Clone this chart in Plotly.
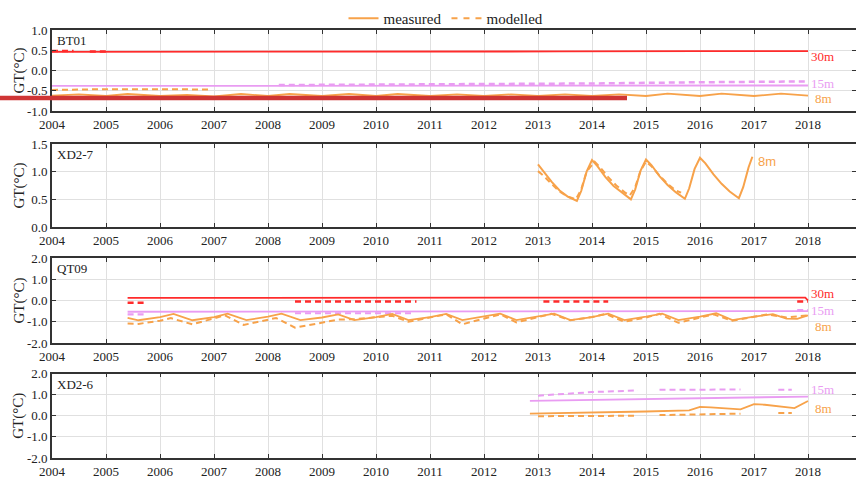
import plotly.graph_objects as go

# ---------------- DATA ----------------
years = list(range(2004, 2019))
year_labels = [str(y) for y in years]

# BT01
bt_30_meas_x = [2004.0, 2008.0, 2013.4, 2016.0, 2018.0]
bt_30_meas_y = [0.46, 0.46, 0.47, 0.48, 0.48]
bt_30_mod_x = [2004.0, 2004.4, None, 2004.7, 2005.0]
bt_30_mod_y = [0.48, 0.48, None, 0.47, 0.47]
bt_15_meas_x = [2004.0, 2018.0]
bt_15_meas_y = [-0.38, -0.37]
bt_15_mod_x = [2008.2, 2010.0, 2012.0, 2014.0, 2016.0, 2018.0]
bt_15_mod_y = [-0.36, -0.35, -0.34, -0.32, -0.29, -0.27]
bt_8_meas_x = [2004.0, 2004.5, 2005.0, 2005.4, 2006.0, 2006.5, 2007.0, 2007.5, 2008.0, 2008.4,
               2009.0, 2009.5, 2010.0, 2010.4, 2011.0, 2011.5, 2012.0, 2012.5, 2013.0, 2013.5,
               2014.0, 2014.5, 2015.0, 2015.4, 2016.0, 2016.4, 2017.0, 2017.5, 2018.0]
bt_8_meas_y = [-0.62, -0.59, -0.63, -0.58, -0.63, -0.60, -0.64, -0.58, -0.63, -0.58,
               -0.63, -0.58, -0.63, -0.58, -0.63, -0.59, -0.63, -0.59, -0.63, -0.59,
               -0.63, -0.59, -0.63, -0.57, -0.63, -0.57, -0.63, -0.57, -0.62]
bt_8_mod_x = [2004.0, 2005.0, 2006.0, 2006.9]
bt_8_mod_y = [-0.48, -0.46, -0.46, -0.47]

# XD2-7
xd7_8_meas_x = [2013.0, 2013.1, 2013.25, 2013.4, 2013.55, 2013.72, 2013.8, 2013.9, 2014.0,
                2014.1, 2014.25, 2014.4, 2014.55, 2014.72, 2014.8, 2014.9, 2015.0,
                2015.1, 2015.25, 2015.4, 2015.55, 2015.72, 2015.8, 2015.9, 2016.0,
                2016.1, 2016.25, 2016.4, 2016.55, 2016.72, 2016.8, 2016.9, 2016.97]
xd7_8_meas_y = [1.13, 1.00, 0.82, 0.66, 0.55, 0.47, 0.65, 1.00, 1.21,
                1.10, 0.90, 0.74, 0.62, 0.50, 0.68, 1.02, 1.22,
                1.12, 0.92, 0.76, 0.63, 0.51, 0.70, 1.05, 1.25,
                1.15, 0.95, 0.78, 0.64, 0.52, 0.72, 1.08, 1.27]
xd7_8_mod_x = [2013.0, 2013.1, 2013.25, 2013.4, 2013.55, 2013.7, 2013.8, 2013.9, 2014.05,
               2014.15, 2014.3, 2014.45, 2014.6, 2014.7, 2014.8, 2014.9, 2015.0,
               2015.1, 2015.25, 2015.4, 2015.55, 2015.65]
xd7_8_mod_y = [1.01, 0.93, 0.78, 0.64, 0.55, 0.50, 0.68, 1.00, 1.18,
               1.08, 0.90, 0.75, 0.63, 0.57, 0.72, 1.02, 1.18,
               1.10, 0.93, 0.78, 0.66, 0.62]

# QT09
qt_30_meas_x = [2005.4, 2010.0, 2015.8, 2017.95, 2018.0]
qt_30_meas_y = [0.12, 0.12, 0.14, 0.14, 0.00]
qt_30_mod_x = [2005.4, 2005.7, None, 2008.5, 2010.75, None, 2013.1, 2014.3, None, 2017.8, 2018.0]
qt_30_mod_y = [-0.10, -0.10, None, -0.05, -0.05, None, -0.05, -0.05, None, -0.05, -0.05]
qt_15_meas_x = [2005.4, 2018.0]
qt_15_meas_y = [-0.53, -0.50]
qt_15_mod_x = [2005.4, 2005.7, None, 2008.5, 2010.7, None, 2017.8, 2018.0]
qt_15_mod_y = [-0.65, -0.65, None, -0.60, -0.60, None, -0.45, -0.45]
qt_8_meas_x = [2005.4, 2005.6, 2006.0, 2006.25, 2006.6, 2007.0, 2007.25, 2007.6, 2008.0, 2008.25,
               2008.6, 2009.0, 2009.3, 2009.6, 2010.0, 2010.3, 2010.6, 2011.0, 2011.3, 2011.6,
               2012.0, 2012.3, 2012.6, 2013.0, 2013.3, 2013.6, 2014.0, 2014.3, 2014.6, 2015.0,
               2015.3, 2015.6, 2016.0, 2016.3, 2016.6, 2017.0, 2017.35, 2017.6, 2017.8, 2018.0]
qt_8_meas_y = [-0.82, -0.93, -0.78, -0.63, -0.93, -0.78, -0.62, -0.92, -0.76, -0.62,
               -0.92, -0.80, -0.65, -0.92, -0.78, -0.63, -0.92, -0.78, -0.63, -0.92,
               -0.75, -0.62, -0.92, -0.75, -0.62, -0.92, -0.78, -0.62, -0.92, -0.76,
               -0.62, -0.92, -0.76, -0.60, -0.92, -0.76, -0.64, -0.85, -0.86, -0.70]
qt_8_mod_x = [2005.4, 2005.6, 2006.0, 2006.2, 2006.6, 2007.0, 2007.2, 2007.55, 2008.0, 2008.15,
              2008.5, 2009.0, 2009.3, 2009.6, 2010.0, 2010.3, 2010.6, 2011.0, 2011.3, 2011.6,
              2012.0, 2012.3, 2012.6, 2013.0, 2013.25, 2013.6, 2014.0, 2014.25, 2014.6, 2015.0,
              2015.25, 2015.6, 2016.0, 2016.25, 2016.6, 2017.0, 2017.25, 2017.6, 2018.0]
qt_8_mod_y = [-1.08, -1.10, -0.95, -0.83, -1.12, -0.85, -0.70, -1.15, -0.90, -0.82,
              -1.28, -1.05, -0.90, -0.88, -0.78, -0.72, -1.00, -0.80, -0.65, -1.12,
              -0.85, -0.65, -1.03, -0.80, -0.63, -0.93, -0.78, -0.63, -1.00, -0.80,
              -0.63, -1.05, -0.80, -0.65, -0.95, -0.78, -0.65, -0.80, -0.70]

# XD2-6
xd6_15_meas_x = [2012.85, 2015.0, 2018.0]
xd6_15_meas_y = [0.70, 0.78, 0.91]
xd6_15_mod_x = [2013.0, 2014.0, 2014.85, None, 2015.25, 2016.75, None, 2017.45, 2017.7]
xd6_15_mod_y = [0.95, 1.12, 1.20, None, 1.23, 1.24, None, 1.23, 1.23]
xd6_8_meas_x = [2012.85, 2014.0, 2015.0, 2015.8, 2016.0, 2016.2, 2016.75, 2017.0, 2017.2, 2017.75, 2017.9, 2018.0]
xd6_8_meas_y = [0.10, 0.14, 0.20, 0.25, 0.42, 0.40, 0.30, 0.55, 0.52, 0.36, 0.58, 0.70]
xd6_8_mod_x = [2013.0, 2014.85, None, 2015.25, 2016.75, None, 2017.45, 2017.7]
xd6_8_mod_y = [-0.02, 0.00, None, 0.03, 0.10, None, 0.13, 0.13]

panel_names = ["BT01", "XD2-7", "QT09", "XD2-6"]

# ---------------- STYLE ----------------
ORANGE = "#f7a24a"
RED = "#ff2b2b"
VIOLET = "#e99cf2"
SERIF = "Liberation Serif"
W, H = 856, 477
px2x = lambda p: p / W
px2y = lambda p: 1 - p / H

x0_px = 52
px_per_year = 54.0
xrange_ = [2004, 2004 + (W - x0_px) / px_per_year]

domains = [(30, 111), (144, 227), (258, 343), (373.5, 458)]
yranges = [[-1, 1], [0, 1.5], [-2, 2], [-2, 2]]
yticks = [
    ([-1.0, -0.5, 0.0, 0.5, 1.0], ["-1.0", "-0.5", "0.0", "0.5", "1.0"]),
    ([0.0, 0.5, 1.0, 1.5], ["0.0", "0.5", "1.0", "1.5"]),
    ([-2, -1, 0, 1, 2], ["-2.0", "-1.0", "0.0", "1.0", "2.0"]),
    ([-2, -1, 0, 1, 2], ["-2.0", "-1.0", "0.0", "1.0", "2.0"]),
]

fig = go.Figure()

def add(x, y, color, dash, panel, width=1.8):
    ax = "" if panel == 1 else str(panel)
    fig.add_trace(go.Scatter(x=x, y=y, mode="lines", xaxis="x" + ax, yaxis="y" + ax,
                             line=dict(color=color, width=width, dash=dash),
                             showlegend=False, hoverinfo="skip", connectgaps=False))

DASH = "6px,4px"
# panel 1
add(bt_30_meas_x, bt_30_meas_y, RED, "solid", 1)
add(bt_30_mod_x, bt_30_mod_y, RED, DASH, 1, 2.5)
add(bt_15_meas_x, bt_15_meas_y, VIOLET, "solid", 1)
add(bt_15_mod_x, bt_15_mod_y, VIOLET, DASH, 1, 2.5)
add(bt_8_meas_x, bt_8_meas_y, ORANGE, "solid", 1)
add(bt_8_mod_x, bt_8_mod_y, ORANGE, DASH, 1, 2)
# panel 2
add(xd7_8_meas_x, xd7_8_meas_y, ORANGE, "solid", 2, 2)
add(xd7_8_mod_x, xd7_8_mod_y, ORANGE, DASH, 2, 2)
# panel 3
add(qt_30_meas_x, qt_30_meas_y, RED, "solid", 3)
add(qt_30_mod_x, qt_30_mod_y, RED, DASH, 3, 2.5)
add(qt_15_meas_x, qt_15_meas_y, VIOLET, "solid", 3)
add(qt_15_mod_x, qt_15_mod_y, VIOLET, DASH, 3, 2.2)
add(qt_8_meas_x, qt_8_meas_y, ORANGE, "solid", 3)
add(qt_8_mod_x, qt_8_mod_y, ORANGE, DASH, 3, 2)
# panel 4
add(xd6_15_meas_x, xd6_15_meas_y, VIOLET, "solid", 4)
add(xd6_15_mod_x, xd6_15_mod_y, VIOLET, DASH, 4, 2)
add(xd6_8_meas_x, xd6_8_meas_y, ORANGE, "solid", 4)
add(xd6_8_mod_x, xd6_8_mod_y, ORANGE, DASH, 4, 2)

# legend entries
fig.add_trace(go.Scatter(x=[None], y=[None], mode="lines", name="measured",
                         line=dict(color=ORANGE, width=2)))
fig.add_trace(go.Scatter(x=[None], y=[None], mode="lines", name="modelled",
                         line=dict(color=ORANGE, width=2, dash="6px,6px")))

layout = dict(
    width=W, height=H, margin=dict(l=0, r=0, t=0, b=0, autoexpand=False),
    paper_bgcolor="white", plot_bgcolor="white",
    font=dict(family=SERIF, size=13, color="#222"),
    legend=dict(orientation="h", x=px2x(446), xanchor="center", y=px2y(2), yanchor="top",
                font=dict(family=SERIF, size=15, color="#222"), itemwidth=30,
                bgcolor="rgba(0,0,0,0)"),
    showlegend=True,
)
for i in range(4):
    ax = "" if i == 0 else str(i + 1)
    top, bot = domains[i]
    layout["xaxis" + ax] = dict(
        domain=[px2x(x0_px), 1.0], range=xrange_, anchor="y" + ax,
        tickvals=years, ticktext=year_labels, ticks="inside", ticklen=4, tickwidth=1.3,
        tickcolor="#333", showline=True, linecolor="#333", linewidth=1.8, mirror="ticks",
        showgrid=True, gridcolor="#e0e0e0", gridwidth=1, zeroline=False,
        tickfont=dict(family=SERIF, size=13, color="#222"),
    )
    layout["yaxis" + ax] = dict(
        domain=[px2y(bot), px2y(top)], range=yranges[i], anchor="x" + ax,
        tickvals=yticks[i][0], ticktext=yticks[i][1], ticks="inside", ticklen=4,
        tickwidth=1.3, tickcolor="#333", showline=True, linecolor="#333", linewidth=1.8,
        mirror="ticks", showgrid=True, gridcolor="#e0e0e0", gridwidth=1, zeroline=False,
        tickfont=dict(family=SERIF, size=13, color="#222"),
    )
fig.update_layout(**layout)

annotations = []
for i, name in enumerate(panel_names):
    top, bot = domains[i]
    annotations.append(dict(x=px2x(55), y=px2y(top + 1), xref="paper", yref="paper",
                            text=name, showarrow=False, xanchor="left", yanchor="top",
                            font=dict(family=SERIF, size=13, color="#222")))
    annotations.append(dict(x=px2x(19), y=px2y((top + bot) / 2), xref="paper", yref="paper",
                            text="GT(°C)", showarrow=False, textangle=-90,
                            xanchor="center", yanchor="middle",
                            font=dict(family=SERIF, size=15, color="#222")))

def lab(text, y_px, color, x_px=809, family=SERIF, size=13):
    annotations.append(dict(x=px2x(x_px), y=px2y(y_px), xref="paper", yref="paper",
                            text=text, showarrow=False, xanchor="left", yanchor="middle",
                            font=dict(family=family, size=size, color=color)))

lab("30m", 57, RED)
lab("15m", 83, VIOLET)
lab("8m", 99, ORANGE, x_px=813)
lab("8m", 162, ORANGE, x_px=756, family="Liberation Sans", size=13)
lab("30m", 293, RED)
lab("15m", 310, VIOLET)
lab("8m", 326, ORANGE, x_px=813)
lab("15m", 389, VIOLET)
lab("8m", 408, ORANGE, x_px=813)
fig.update_layout(annotations=annotations)

# highlight bar across first panel
fig.add_shape(type="line", xref="paper", yref="paper", x0=0, x1=px2x(627),
              y0=px2y(98), y1=px2y(98), line=dict(color="#cf3535", width=4.5))

fig.write_html("out.html")
